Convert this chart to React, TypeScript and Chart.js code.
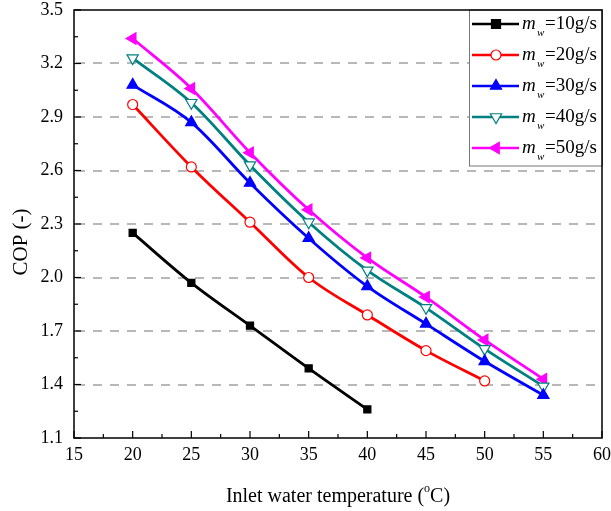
import React, { useEffect, useRef } from 'react';
import { Chart, registerables } from 'chart.js';
Chart.register(...registerables);

const temps = [20, 25, 30, 35, 40, 45, 50, 55];
const flowLabels = ['10', '20', '30', '40', '50'];
const cop10 = [2.25, 1.97, 1.73, 1.49, 1.26];
const cop20 = [2.97, 2.62, 2.31, 2.0, 1.79, 1.59, 1.42];
const cop30 = [3.08, 2.87, 2.53, 2.22, 1.95, 1.74, 1.53, 1.34];
const cop40 = [3.23, 2.98, 2.63, 2.31, 2.04, 1.83, 1.6, 1.39];
const cop50 = [3.34, 3.06, 2.7, 2.38, 2.11, 1.89, 1.65, 1.43];
const xTitle = 'Inlet water temperature (';
const yTitle = 'COP (-)';

const FONT = "'Liberation Serif', 'Times New Roman', serif";

const seriesStyle = [
  { color: '#000000', style: 'rect', rot: 0, fill: '#000000', r: 5 },
  { color: '#ff0000', style: 'circle', rot: 0, fill: '#ffffff', r: 5 },
  { color: '#0000ff', style: 'triangle', rot: 0, fill: '#0000ff', r: 6.5 },
  { color: '#008080', style: 'triangle', rot: 180, fill: '#ffffff', r: 6.5 },
  { color: '#ff00ff', style: 'triangle', rot: -90, fill: '#ff00ff', r: 6.5 },
];
const seriesData = [cop10, cop20, cop30, cop40, cop50];

function drawMarker(ctx: CanvasRenderingContext2D, s: any, x: number, y: number) {
  ctx.save();
  ctx.fillStyle = s.fill;
  ctx.strokeStyle = s.color;
  ctx.lineWidth = 1.2;
  ctx.translate(x, y);
  ctx.rotate((s.rot * Math.PI) / 180);
  ctx.beginPath();
  if (s.style === 'rect') {
    ctx.rect(-s.r * 0.9, -s.r * 0.9, s.r * 1.8, s.r * 1.8);
  } else if (s.style === 'circle') {
    ctx.arc(0, 0, s.r, 0, Math.PI * 2);
  } else {
    const r = s.r;
    ctx.moveTo(0, -r);
    ctx.lineTo(r * Math.sin(Math.PI * 2 / 3), -r * Math.cos(Math.PI * 2 / 3));
    ctx.lineTo(r * Math.sin(Math.PI * 4 / 3), -r * Math.cos(Math.PI * 4 / 3));
    ctx.closePath();
  }
  ctx.fill();
  ctx.stroke();
  ctx.restore();
}

const framePlugin = {
  id: 'frame',
  afterDraw(chart: any) {
    const { ctx, chartArea: a, scales } = chart;
    const xs = scales.x;
    const ys = scales.y;
    ctx.save();
    ctx.strokeStyle = '#000';
    ctx.lineWidth = 1.2;
    const line = (x1: number, y1: number, x2: number, y2: number) => {
      ctx.beginPath();
      ctx.moveTo(x1, y1);
      ctx.lineTo(x2, y2);
      ctx.stroke();
    };
    xs.ticks.forEach((t: any, i: number) => {
      const px = xs.getPixelForValue(t.value);
      line(px, a.bottom, px, a.bottom - 7);
      if (i < xs.ticks.length - 1) {
        const mid = xs.getPixelForValue((t.value + xs.ticks[i + 1].value) / 2);
        line(mid, a.bottom, mid, a.bottom - 4);
      }
    });
    ys.ticks.forEach((t: any, i: number) => {
      const py = ys.getPixelForValue(t.value);
      line(a.left, py, a.left + 7, py);
      if (i < ys.ticks.length - 1) {
        const mid = ys.getPixelForValue((t.value + ys.ticks[i + 1].value) / 2);
        line(a.left, mid, a.left + 4, mid);
      }
    });

    // legend
    const lx = 469, ly = a.top, lw = a.right - 469, lh = 156;
    ctx.fillStyle = '#fff';
    ctx.fillRect(lx, ly, lw, lh);
    ctx.strokeStyle = '#777';
    ctx.lineWidth = 1;
    ctx.strokeRect(lx + 0.5, ly, lw, lh);
    seriesStyle.forEach((s, i) => {
      const y = ly + 14 + i * 31;
      ctx.strokeStyle = s.color;
      ctx.lineWidth = 2.5;
      line(472, y, 519, y);
      drawMarker(ctx, s, 496, y);
      ctx.fillStyle = '#000';
      ctx.textBaseline = 'middle';
      ctx.textAlign = 'left';
      ctx.font = `italic 19px ${FONT}`;
      ctx.fillText('m', 522, y);
      ctx.font = `italic 11px ${FONT}`;
      ctx.fillText('w', 537, y + 9);
      ctx.font = `19px ${FONT}`;
      ctx.fillText(`=${flowLabels[i]}g/s`, 545, y);
    });

    // frame
    ctx.strokeStyle = '#000';
    ctx.lineWidth = 1.5;
    ctx.strokeRect(a.left, a.top, a.right - a.left, a.bottom - a.top);

    // titles
    ctx.fillStyle = '#000';
    ctx.font = `20px ${FONT}`;
    ctx.textBaseline = 'middle';
    const w1 = ctx.measureText(xTitle).width;
    ctx.font = `12px ${FONT}`;
    const w2 = ctx.measureText('o').width;
    ctx.font = `20px ${FONT}`;
    const w3 = ctx.measureText('C)').width;
    let sx = 338 - (w1 + w2 + w3) / 2;
    ctx.textAlign = 'left';
    ctx.fillText(xTitle, sx, 497);
    ctx.font = `12px ${FONT}`;
    ctx.fillText('o', sx + w1, 489);
    ctx.font = `20px ${FONT}`;
    ctx.fillText('C)', sx + w1 + w2, 497);

    ctx.font = `21px ${FONT}`;
    ctx.translate(21, 242);
    ctx.rotate(-Math.PI / 2);
    ctx.textAlign = 'center';
    ctx.fillText(yTitle, 0, 0);
    ctx.restore();
  },
};

export default function App() {
  const ref = useRef<HTMLCanvasElement>(null);
  useEffect(() => {
    if (!ref.current) return;
    const chart = new Chart(ref.current, {
      type: 'line',
      data: {
        datasets: seriesData.map((d, i) => ({
          label: `mw=${flowLabels[i]}g/s`,
          data: d.map((v, j) => ({ x: temps[j], y: v })),
          borderColor: seriesStyle[i].color,
          backgroundColor: seriesStyle[i].fill,
          pointBorderColor: seriesStyle[i].color,
          pointBackgroundColor: seriesStyle[i].fill,
          pointStyle: seriesStyle[i].style as any,
          pointRotation: seriesStyle[i].rot,
          pointRadius: seriesStyle[i].r,
          pointBorderWidth: 1.2,
          borderWidth: 2.8,
          cubicInterpolationMode: 'monotone' as const,
          fill: false,
        })),
      },
      options: {
        animation: false,
        responsive: false,
        devicePixelRatio: 1,
        layout: { padding: { top: 10, right: 9, left: 0, bottom: 0 } },
        plugins: { legend: { display: false }, tooltip: { enabled: false } },
        scales: {
          x: {
            type: 'linear',
            min: 15,
            max: 60,
            afterFit: (s: any) => { s.height = 73; s.paddingLeft = 0; s.paddingRight = 0; },
            ticks: { stepSize: 5, autoSkip: false, maxRotation: 0, padding: 6, color: '#000', font: { family: FONT, size: 18 } },
            grid: { display: false, drawTicks: false },
            border: { display: false },
          },
          y: {
            type: 'linear',
            min: 1.1,
            max: 3.5,
            afterFit: (s: any) => { s.width = 74; s.paddingTop = 0; s.paddingBottom = 0; },
            ticks: {
              stepSize: 0.3,
              autoSkip: false,
              padding: 11,
              color: '#000',
              font: { family: FONT, size: 18 },
              callback: (v: any) => Number(v).toFixed(1),
            },
            grid: {
              drawTicks: false,
              lineWidth: 2,
              color: (c: any) => {
                const v = c.tick ? c.tick.value : 0;
                return Math.abs(v - 1.1) < 1e-6 || Math.abs(v - 3.5) < 1e-6 ? 'rgba(0,0,0,0)' : '#b8b8b8';
              },
            },
            border: { display: false, dash: [9, 8], dashOffset: -19 },
          },
        },
      },
      plugins: [framePlugin],
    });
    return () => chart.destroy();
  }, []);
  return (
    <canvas ref={ref} width={611} height={511} style={{ position: 'absolute', left: 0, top: 0 }} />
  );
}
